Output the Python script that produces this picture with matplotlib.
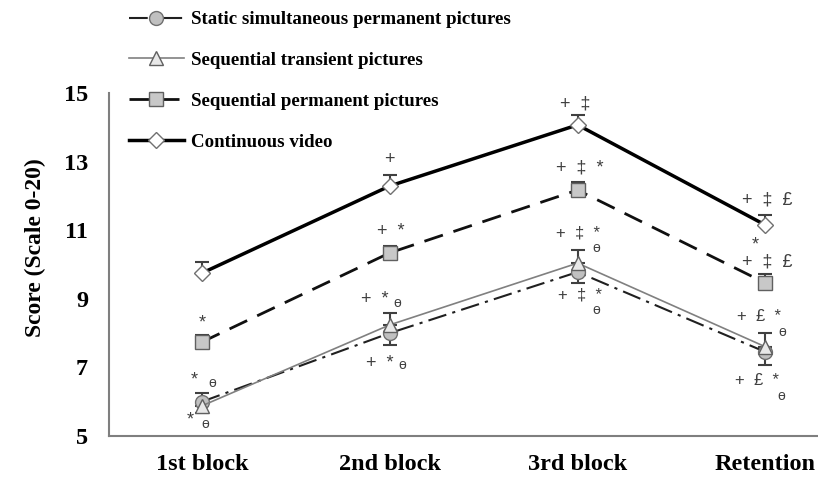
import numpy as np
import matplotlib
matplotlib.use("Agg")
import matplotlib.pyplot as plt

# data
categories = ["1st block", "2nd block", "3rd block", "Retention"]

static_sim   = [6.00, 8.00, 9.78, 7.45]
static_err   = [0.32, 0.35, 0.32, 0.38]
seq_trans    = [5.88, 8.24, 10.04, 7.60]
trans_err    = [0.38, 0.35, 0.38, 0.41]
seq_perm     = [7.74, 10.34, 12.17, 9.46]
perm_err     = [0.20, 0.20, 0.23, 0.26]
cont_video   = [9.75, 12.29, 14.07, 11.15]
video_err    = [0.32, 0.32, 0.29, 0.29]

yticks = [5, 7, 9, 11, 13, 15]

# significance marks: (series, category index, text, dx px, dy px, size)
ann = [
    ("perm", 0, "*", 0, 19, 13),
    ("trans", 0, "*", -8, 26, 13), ("trans", 0, "ɵ", 10, 23, 10),
    ("static", 0, "*", -12, -18, 13), ("static", 0, "ɵ", 3, -22, 10),
    ("video", 1, "+", 0, 26, 13),
    ("perm", 1, "+  *", 1, 21, 13),
    ("trans", 1, "+  *", -15, 25, 13), ("trans", 1, "ɵ", 7, 22, 10),
    ("static", 1, "+  *", -10, -30, 13), ("static", 1, "ɵ", 12, -32, 10),
    ("video", 2, "+  ‡", -2, 21, 13),
    ("perm", 2, "+  ‡  *", 2, 22, 13),
    ("trans", 2, "+  ‡  *", 0, 30, 12), ("trans", 2, "ɵ", 19, 15, 10),
    ("static", 2, "+  ‡  *", 2, -23, 12), ("static", 2, "ɵ", 19, -38, 10),
    ("video", 3, "+  ‡  £", 2, 25, 13),
    ("perm", 3, "*", -10, 38, 13),
    ("perm", 3, "+  ‡  £", 2, 21, 13),
    ("trans", 3, "+  £  *", -6, 30, 12), ("trans", 3, "ɵ", 17, 15, 10),
    ("static", 3, "+  £  *", -8, -29, 12), ("static", 3, "ɵ", 16, -44, 10),
]

serif = ["Liberation Serif", "DejaVu Serif"]
sans = ["Liberation Sans", "DejaVu Sans"]

fig = plt.figure(figsize=(8.18, 4.83), dpi=100)
ax = fig.add_axes([109/818, 1-436/483, 1-109/818, (436-93)/483])

x = np.arange(len(categories))
err_kw = dict(ecolor="#404040", elinewidth=1.5, capsize=5, capthick=1.5, zorder=2)

series = {
    "static": (static_sim, static_err, "minus"),
    "trans": (seq_trans, trans_err, "plus"),
    "perm": (seq_perm, perm_err, "plus"),
    "video": (cont_video, video_err, "plus"),
}

for key, (vals, err, side) in series.items():
    vals = np.array(vals); err = np.array(err)
    if side == "plus":
        yerr = [np.zeros_like(err), err]
    else:
        yerr = [err, np.zeros_like(err)]
    ax.errorbar(x, vals, yerr=yerr, fmt="none", **err_kw)

l1, = ax.plot(x, static_sim, color="#202020", lw=1.5, dashes=[9, 3, 1.5, 3],
              marker="o", ms=10, mfc="#c0c0c0", mec="#707070", mew=1, zorder=3)
l2, = ax.plot(x, seq_trans, color="#808080", lw=1.2,
              marker="^", ms=10, mfc="#e8e8e8", mec="#606060", mew=1, zorder=4)
l3, = ax.plot(x, seq_perm, color="#101010", lw=2, dashes=[7, 4],
              marker="s", ms=10, mfc="#c8c8c8", mec="#606060", mew=1, zorder=3)
l4, = ax.plot(x, cont_video, color="#000000", lw=2.5,
              marker="D", ms=8, mfc="white", mec="#707070", mew=1, zorder=3)

vals_by = {k: v[0] for k, v in series.items()}
for key, i, txt, dx, dy, fs in ann:
    ax.annotate(txt, xy=(x[i], vals_by[key][i]), xytext=(dx, dy),
                textcoords="offset pixels", ha="center", va="center",
                fontsize=fs, color="#404040", family=sans, zorder=5)

ax.set_xlim(-0.495, 3.28)
ax.set_ylim(5, 15)
ax.set_yticks(yticks)
ax.set_xticks(x)
ax.set_xticklabels(categories)
for lab in ax.get_xticklabels() + ax.get_yticklabels():
    lab.set_fontfamily(serif)
    lab.set_fontweight("bold")
    lab.set_fontsize(17.5)
ax.tick_params(axis="y", length=0, pad=15)
ax.tick_params(axis="x", length=0, pad=13)
ax.set_ylabel("Score (Scale 0-20)", family=serif, fontweight="bold", fontsize=17,
              labelpad=13, y=0.55)

for s in ["top", "right"]:
    ax.spines[s].set_visible(False)
for s in ["left", "bottom"]:
    ax.spines[s].set_color("#7f7f7f")
    ax.spines[s].set_linewidth(1.5)

leg = fig.legend([l1, l2, l3, l4],
                 ["Static simultaneous permanent pictures", "Sequential transient pictures",
                  "Sequential permanent pictures", "Continuous video"],
                 loc="upper left", bbox_to_anchor=(129/818, 1-11/483),
                 frameon=False, handlelength=2.9, handletextpad=0.37, labelspacing=1.25,
                 borderpad=0, borderaxespad=0,
                 prop={"family": serif, "weight": "bold", "size": 13.6})

fig.savefig("out.png", dpi=100)
